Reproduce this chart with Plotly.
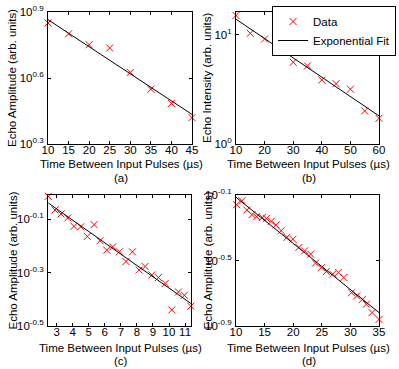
import plotly.graph_objects as go

# ---------------- data ----------------
a_x = [10, 15, 20, 25, 30, 35, 40, 45]
a_y = [7.08, 6.32, 5.64, 5.45, 4.22, 3.54, 3.05, 2.63]
a_fit_x = [10, 45]
a_fit_y = [7.33, 2.72]

b_x = [10, 15, 20, 25, 30, 35, 40, 45, 50, 55, 60]
b_y = [15.1, 10.35, 9.18, 7.55, 5.61, 5.20, 3.86, 3.57, 3.18, 2.01, 1.72]
b_fit_x = [10, 60]
b_fit_y = [13.93, 1.81]

c_x = [2.48, 2.90, 3.27, 3.69, 4.08, 4.50, 4.91, 5.33, 5.70, 6.12, 6.49, 6.91,
       7.32, 7.72, 8.14, 8.51, 8.93, 9.34, 9.76, 10.17, 10.59, 10.96, 11.36]
c_y = [0.966, 0.859, 0.830, 0.802, 0.746, 0.743, 0.684, 0.757, 0.659, 0.608, 0.625, 0.599,
       0.551, 0.599, 0.512, 0.528, 0.491, 0.480, 0.456, 0.363, 0.424, 0.412, 0.375]
c_fit_x = [2.48, 11.36]
c_fit_y = [0.912, 0.384]

d_x = [10.1, 11.05, 11.9, 12.8, 13.6, 14.6, 15.3, 16.15, 17.0, 17.9, 18.9, 19.95, 21.0,
       22.0, 23.05, 23.9, 24.9, 25.8, 26.9, 27.9, 28.85, 30.2, 31.1, 32.1, 32.8, 33.8, 35.0]
d_y = [0.693, 0.733, 0.643, 0.603, 0.585, 0.579, 0.571, 0.548, 0.522, 0.481, 0.438, 0.426, 0.380,
       0.362, 0.346, 0.305, 0.286, 0.271, 0.261, 0.267, 0.249, 0.201, 0.192, 0.183, 0.171, 0.152, 0.138]
d_fit_x = [10, 35]
d_fit_y = [0.769, 0.152]

a_xticks = [10, 15, 20, 25, 30, 35, 40, 45]
b_xticks = [10, 20, 30, 40, 50, 60]
c_xticks = [3, 4, 5, 6, 7, 8, 9, 10, 11]
d_xticks = [10, 15, 20, 25, 30, 35]

a_yexp = ["0.3", "0.6", "0.9"]
b_yexp = ["0", "1"]
c_yexp = ["-0.5", "-0.3", "-0.1"]
d_yexp = ["-0.9", "-0.5", "-0.1"]

xtitle = "Time Between Input Pulses (µs)"
captions = ["(a)", "(b)", "(c)", "(d)"]
ytitles = ["Echo Amplitude (arb. units)", "Echo Intensity (arb. units)",
           "Echo Amplitude (arb. units)", "Echo Amplitude (arb. units)"]

# ---------------- figure ----------------
W, H = 399, 369
FONT = "Liberation Sans, Arial, Helvetica, sans-serif"

def px_x(p):
    return p / W

def px_y(p):
    return 1 - p / H

panels = [
    dict(x=a_x, y=a_y, fx=a_fit_x, fy=a_fit_y, xt=a_xticks, ye=a_yexp,
         xr=[10, 45], yr=[0.3, 0.9], dx=[48, 192], dy=[12, 144], ytx=12, tt=20.5, cap=34),
    dict(x=b_x, y=b_y, fx=b_fit_x, fy=b_fit_y, xt=b_xticks, ye=b_yexp,
         xr=[10, 60], yr=[0, 1.21], dx=[236, 379], dy=[12, 144], ytx=207, tt=20.5, cap=34),
    dict(x=c_x, y=c_y, fx=c_fit_x, fy=c_fit_y, xt=c_xticks, ye=c_yexp,
         xr=[2.46, 11.37], yr=[-0.5, -0.01], dx=[48, 191], dy=[195, 326], ytx=12, tt=21.5, cap=35),
    dict(x=d_x, y=d_y, fx=d_fit_x, fy=d_fit_y, xt=d_xticks, ye=d_yexp,
         xr=[10, 35], yr=[-0.9, -0.1], dx=[236, 379], dy=[195, 326], ytx=207, tt=21.5, cap=35),
]

fig = go.Figure()
layout = dict(
    width=W, height=H, margin=dict(l=0, r=0, t=0, b=0, autoexpand=False),
    paper_bgcolor="white", plot_bgcolor="white",
    font=dict(family=FONT, size=11, color="black"),
    showlegend=True,
    legend=dict(x=px_x(396), y=px_y(6), xanchor="right", yanchor="top",
                bgcolor="white", bordercolor="black", borderwidth=1,
                font=dict(size=11.5), tracegroupgap=0, itemwidth=30),
)
annotations = []
for i, p in enumerate(panels):
    n = "" if i == 0 else str(i + 1)
    xa, ya = "x" + n, "y" + n
    fig.add_trace(go.Scatter(
        x=p["x"], y=p["y"], mode="markers", name="Data", xaxis=xa, yaxis=ya,
        marker=dict(symbol="x-thin", size=7, line=dict(color="red", width=1), color="red"),
        showlegend=(i == 1), cliponaxis=False))
    fig.add_trace(go.Scatter(
        x=p["fx"], y=p["fy"], mode="lines", name="Exponential Fit", xaxis=xa, yaxis=ya,
        line=dict(color="black", width=1), showlegend=(i == 1)))
    yvals = [10 ** float(e) for e in p["ye"]]
    ytext = ["10<sup>%s</sup>" % e for e in p["ye"]]
    layout["xaxis" + n] = dict(
        domain=[px_x(p["dx"][0]), px_x(p["dx"][1])], anchor=ya, range=p["xr"],
        tickvals=p["xt"], ticktext=[str(v) for v in p["xt"]],
        ticks="inside", ticklen=3, tickcolor="black", showline=True, linecolor="black",
        linewidth=1, mirror="ticks", showgrid=False, zeroline=False,
        tickfont=dict(size=11.5), ticklabelstandoff=-5)
    layout["yaxis" + n] = dict(
        domain=[px_y(p["dy"][1]), px_y(p["dy"][0])], anchor=xa, type="log", range=p["yr"],
        tickvals=yvals, ticktext=ytext,
        ticks="inside", ticklen=3, tickcolor="black", showline=True, linecolor="black",
        linewidth=1, mirror="ticks", showgrid=False, zeroline=False,
        tickfont=dict(size=11.5), ticklabelstandoff=1)
    cx = (p["dx"][0] + p["dx"][1]) / 2
    bottom = p["dy"][1]
    annotations.append(dict(
        text=xtitle, x=px_x(cx + 1), y=px_y(bottom + p["tt"]), xref="paper", yref="paper",
        showarrow=False, xanchor="center", yanchor="middle", font=dict(size=11.5)))
    annotations.append(dict(
        text=captions[i], x=px_x(cx + 1), y=px_y(bottom + p["cap"]), xref="paper", yref="paper",
        showarrow=False, xanchor="center", yanchor="middle", font=dict(size=11.5)))
    cy = (p["dy"][0] + p["dy"][1]) / 2
    annotations.append(dict(
        text=ytitles[i], x=px_x(p["ytx"]), y=px_y(cy), xref="paper", yref="paper",
        showarrow=False, xanchor="center", yanchor="middle", textangle=-90,
        font=dict(size=11.5)))
layout["annotations"] = annotations
fig.update_layout(**layout)
fig.write_html("out.html", config={"displayModeBar": False},
               post_script="document.body.style.margin='0';document.body.style.overflow='hidden';")
